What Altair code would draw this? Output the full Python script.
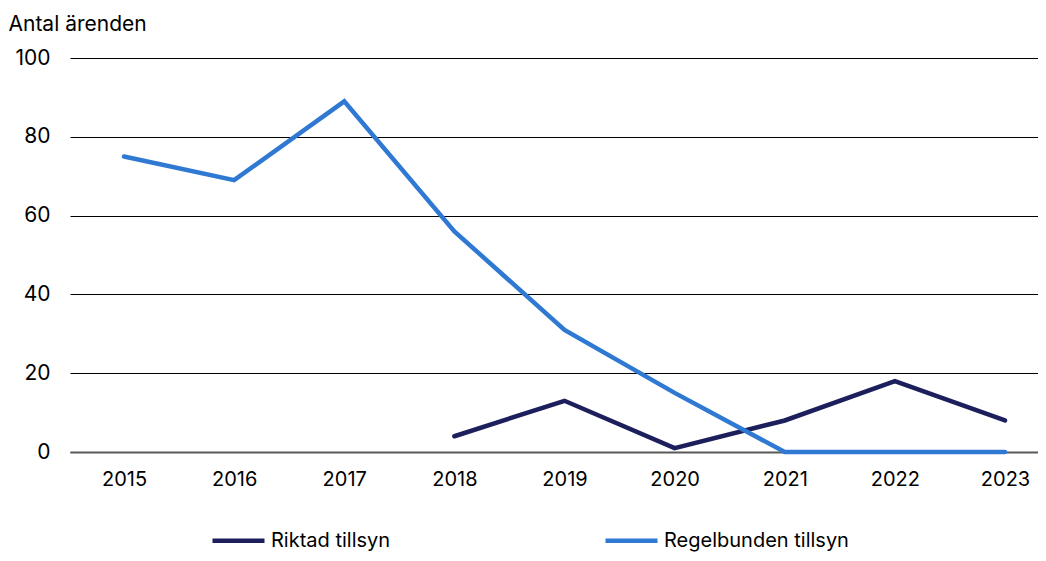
import altair as alt
import pandas as pd

years = [2015, 2016, 2017, 2018, 2019, 2020, 2021, 2022, 2023]
riktad_years = [2018, 2019, 2020, 2021, 2022, 2023]
riktad = [4, 13, 1, 8, 18, 8]
regelbunden = [75, 69, 89, 56, 31, 15, 0, 0, 0]
series_names = ["Riktad tillsyn", "Regelbunden tillsyn"]
series_colors = ["#1c1f5c", "#2f79d3"]
y_ticks = [0, 20, 40, 60, 80, 100]

rows = []
for y, v in zip(riktad_years, riktad):
    rows.append({"year": y, "value": v, "serie": series_names[0]})
for y, v in zip(years, regelbunden):
    rows.append({"year": y, "value": v, "serie": series_names[1]})
df = pd.DataFrame(rows)

FONT = "Inter"

chart = alt.Chart(df).mark_line(strokeWidth=4.5, strokeCap="round").encode(
    x=alt.X("year:Q",
            scale=alt.Scale(domain=[2014.5096, 2023.2996], nice=False, zero=False),
            axis=alt.Axis(values=years, format="d", title=None, grid=False,
                          ticks=False, domainColor="#595959", domainWidth=2,
                          labelFontSize=20, labelColor="#000000", labelPadding=17,
                          labelFont=FONT)),
    y=alt.Y("value:Q",
            scale=alt.Scale(domain=[0, 100], nice=False),
            axis=alt.Axis(values=y_ticks, title="Antal ärenden", titleAngle=0,
                          titleX=-62, titleY=-28, titleAlign="left",
                          titleBaseline="alphabetic", titleFontSize=21,
                          titleFontWeight="normal", titleColor="#000000",
                          titleFont=FONT,
                          grid=True, gridColor="#000000", gridWidth=1,
                          domain=False, ticks=False, labelFontSize=21,
                          labelColor="#000000", labelPadding=20, labelFont=FONT)),
    color=alt.Color("serie:N",
                    scale=alt.Scale(domain=series_names, range=series_colors),
                    legend=alt.Legend(title=None, orient="none", legendX=140,
                                      legendY=454, direction="horizontal",
                                      columns=2, columnPadding=205,
                                      symbolType="stroke", symbolSize=2704,
                                      symbolStrokeWidth=4.5, labelOffset=4,
                                      labelFontSize=20, labelColor="#000000",
                                      labelLimit=400, labelFont=FONT)),
    order=alt.Order("year:Q"),
).properties(
    width=968, height=394,
    autosize=alt.AutoSizeParams(type="none"),
    padding={"left": 62, "top": 50, "right": 0, "bottom": 101},
).configure_view(stroke=None)

chart.save("out.html", embed_options={"renderer": "svg", "actions": False})
